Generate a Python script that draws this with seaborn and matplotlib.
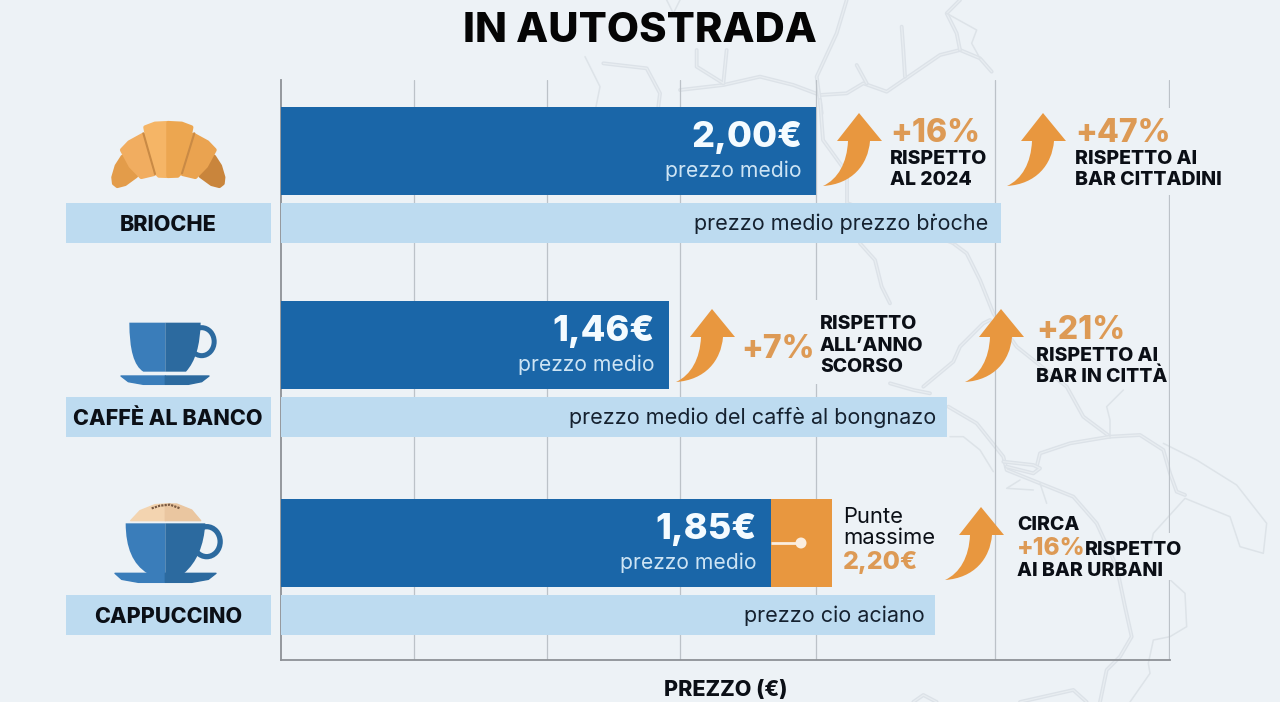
import numpy as np
import matplotlib
matplotlib.use("Agg")
import matplotlib.pyplot as plt
from matplotlib.path import Path
from matplotlib.patches import PathPatch, Rectangle, Circle, Ellipse
import seaborn as sns

# ---------- data ----------
categories = ["BRIOCHE", "CAFFÈ AL BANCO", "CAPPUCCINO"]
price_labels = ["2,00€", "1,46€", "1,85€"]
mean_bar = [2.00, 1.45, 1.83]
peak_bar = [0.0, 0.0, 2.06]
caption_bar = [2.69, 2.49, 2.445]
captions = ["prezzo medio prezzo bṙoche", "prezzo medio del caffè al bongnazo", "prezzo cio aciano"]
grid_values = [0.497, 0.994, 1.49, 2.0, 2.669, 3.32]

# ---------- style ----------
BG = "#edf2f6"
BLUE = "#1a66a8"
LIGHT = "#bddbf0"
ORANGE = "#e8973f"
ORANGE_TXT = "#dd9a55"
INK = "#0b0f16"
FONT = "Inter"
HEAVY = 800

sns.set_theme(style="white")
plt.rcParams["font.family"] = [FONT, "DejaVu Sans"]

W, H = 1280, 702
fig = plt.figure(figsize=(W / 100, H / 100), dpi=100, facecolor=BG)

def layer(z):
    a = fig.add_axes([0, 0, 1, 1], zorder=z)
    a.set_xlim(0, W)
    a.set_ylim(H, 0)
    a.axis("off")
    a.patch.set_alpha(0)
    return a

bgax = layer(0)
top = layer(3)

def zoom_pts(pts, ox, oy):
    return [(ox + x / 3, oy + y / 3) for x, y in pts]

wide_a = [(300,270),(430,255),(540,230),(640,255),(720,285),(800,280),(850,250),(920,275),(1000,220),(1080,165),(1140,150),(1200,175),(1235,215)]
wide_b = [(800,0),(770,100),(710,230),(725,340)]
wide_c = [(965,80),(970,150),(975,230)]
wide_d = [(1140,0),(1100,40),(1130,100),(1140,150)]
wide_e = [(70,190),(200,205),(240,280),(235,320)]
wide_f = [(350,150),(350,200),(430,250),(440,150)]
wide_g = [(830,195),(860,250)]
thin_a = [(15,170),(60,260),(40,360)]
thin_b = [(1100,40),(1190,90),(1175,130),(1200,175)]
thin_c = [(260,0),(280,40),(300,0)]
top_wide = [wide_a, wide_b, wide_c, wide_d, wide_e, wide_f, wide_g]
top_thin = [thin_a, thin_b, thin_c]

mid_a = [(400,160),(440,190),(480,270),(520,370),(590,470),(740,590),(790,680),(870,740)]
mid_b = [(650,830),(660,790),(750,760),(870,740),(960,735),(1030,780),(1050,850),(1070,905),(1095,915)]
mid_c = [(385,650),(470,700),(550,800),(560,840),(660,880),(760,920),(830,1000),(890,1130),(915,1250),(935,1340),(900,1400),(860,1440),(840,1536)]
mid_d = [(550,815),(640,825),(660,835),(640,850),(560,830)]
mid_e = [(310,590),(400,515),(420,470),(490,400),(510,390)]
mid_f = [(120,160),(165,210),(185,290),(210,340)]
mid_g = [(210,580),(280,600),(330,610)]
mid_h = [(600,1536),(760,1500),(800,1536)]
mid_i = [(280,1536),(310,1515),(350,1536)]
low_a = [(1030,760),(1130,810),(1250,885),(1340,1000),(1330,1090),(1260,1070),(1230,980),(1095,925),(1000,1030),(985,1100)]
low_b = [(910,600),(860,650),(870,690),(870,740)]
low_c = [(1040,1160),(1095,1210),(1100,1310),(1050,1340),(1000,1350),(985,1420),(990,1450),(930,1536)]
low_d = [(390,740),(430,740),(480,780),(520,845)]
low_e = [(660,880),(680,940)]
low_f = [(600,870),(560,895),(640,900)]
mid_wide = [mid_a, mid_b, mid_c, mid_d, mid_e, mid_f, mid_g, mid_h, mid_i]
mid_thin = [low_a, low_b, low_c, low_d, low_e, low_f]

def road(pts, wide):
    xs, ys = zip(*pts)
    if wide:
        bgax.plot(xs, ys, color="#dce2e8", lw=2.8, solid_joinstyle="round", solid_capstyle="round")
        bgax.plot(xs, ys, color="#e8edf1", lw=0.9, solid_joinstyle="round")
    else:
        bgax.plot(xs, ys, color="#dde3e8", lw=1.1, solid_joinstyle="round")

for r in top_wide:
    road(zoom_pts(r, 580, 0), True)
for r in top_thin:
    road(zoom_pts(r, 580, 0), False)
for r in mid_wide:
    road(zoom_pts(r, 820, 190), True)
for r in mid_thin:
    road(zoom_pts(r, 820, 190), False)
road([(820, 100), (823, 140), (847, 173), (847, 203), (905, 225), (953, 243)], True)

# ---------- chart axes ----------
ax_l, ax_r, ax_t, ax_b = 281, 1170, 80, 660
ax = fig.add_axes([ax_l / W, 1 - ax_b / H, (ax_r - ax_l) / W, (ax_b - ax_t) / H], zorder=2)
ax.patch.set_alpha(0)
rows = np.array([151, 345, 543])
caption_rows = rows + 72
span = 194.0

sns.barplot(x=caption_bar, y=caption_rows, orient="y", native_scale=True, width=40 / span,
            color=LIGHT, saturation=1, errorbar=None, ax=ax, linewidth=0, zorder=3)
sns.barplot(x=peak_bar, y=rows, orient="y", native_scale=True, width=88 / span,
            color=ORANGE, saturation=1, errorbar=None, ax=ax, linewidth=0, zorder=3)
sns.barplot(x=mean_bar, y=rows, orient="y", native_scale=True, width=88 / span,
            color=BLUE, saturation=1, errorbar=None, ax=ax, linewidth=0, zorder=4)

ax.set_xlim(0, (ax_r - ax_l) / 267.5)
ax.set_ylim(ax_b, ax_t)
ax.set_yticks([])
ax.set_xticks(grid_values)
ax.set_xticklabels([])
ax.tick_params(length=0)
ax.set_xlabel("")
ax.set_ylabel("")
ax.grid(axis="x", color="#bcc2c8", lw=0.9, zorder=1)
ax.set_axisbelow(True)
sns.despine(ax=ax)
for s in ("left", "bottom"):
    ax.spines[s].set_color("#8d9196")
    ax.spines[s].set_linewidth(1.3)

# ---------- helper drawing ----------
def T(x, y, s, size, color=INK, weight=HEAVY, ha="left", va="center", **kw):
    # the va=center box includes descenders: shift so that capitals sit on y
    return top.text(x, y + size * 0.11, s, fontsize=size, color=color, fontweight=weight, ha=ha, va=va, **kw)

def arrow(tx, ty):
    v = [(0,0),(23,28),(11,28),(9,52),(-7,71),(-36,73),(-21,66),(-12,50),(-11,28),(-22,28),(0,0)]
    c = [Path.MOVETO,Path.LINETO,Path.LINETO,Path.CURVE4,Path.CURVE4,Path.CURVE4,Path.CURVE4,Path.CURVE4,Path.CURVE4,Path.LINETO,Path.CLOSEPOLY]
    top.add_patch(PathPatch(Path([(tx+a, ty+b) for a, b in v], c), fc=ORANGE, ec="none"))

def poly(pts, ox, oy, color, lw=0):
    top.add_patch(plt.Polygon(zoom_pts(pts, ox, oy), closed=True, fc=color, ec=color, lw=lw, joinstyle="round"))

def half(pts, ox, oy, color, codes):
    top.add_patch(PathPatch(Path(zoom_pts(pts, ox, oy), codes), fc=color, ec="none"))

CUP_L, CUP_R = "#3a7dba", "#2c6a9f"
LEFT_CODES = [Path.MOVETO, Path.LINETO, Path.LINETO, Path.LINETO, Path.CURVE3, Path.CURVE3]
RIGHT_CODES = [Path.MOVETO, Path.LINETO, Path.CURVE3, Path.CURVE3, Path.LINETO, Path.CLOSEPOLY]

# gaps in grid lines behind text blocks
for (x0, y0, x1, y1) in [(1165, 108, 1175, 195), (811, 300, 821, 384), (1165, 533, 1175, 580)]:
    top.add_patch(Rectangle((x0, y0), x1 - x0, y1 - y0, fc=BG, ec="none"))

# croissant
ox, oy = 60, 90
seg_l = [(160,262),(170,228),(188,200),(228,258),(195,282),(172,288),(162,280)]
seg_m = [(186,180),(208,157),(250,134),(282,252),(244,261),(212,228)]
seg_c = [(256,112),(285,101),(325,99),(325,258),(297,257),(284,243),(266,165)]
mirror = lambda s: [(650 - x, y) for x, y in s]
poly(seg_l, ox, oy, "#e39c4a", 3)
poly(mirror(seg_l), ox, oy, "#c9853c", 3)
poly(seg_m, ox, oy, "#f1ad60", 3)
poly(mirror(seg_m), ox, oy, "#eaa350", 3)
poly(seg_c, ox, oy, "#f5b566", 3)
poly(mirror(seg_c), ox, oy, "#eca650", 3)
for line in ([(250,130),(285,252)], [(403,130),(366,250)]):
    p = zoom_pts(line, ox, oy)
    top.plot(*zip(*p), color="#c98a45", lw=1.5, solid_capstyle="round")

# coffee cup
ox, oy = 60, 300
top.add_patch(Ellipse((ox + 425 / 3, oy + 125 / 3), 25, 28, fc="none", ec=CUP_R, lw=3.6))
half([(208,68),(316,68),(316,215),(250,215),(208,190),(208,68)], ox, oy, CUP_L, LEFT_CODES)
half([(316,68),(422,68),(420,170),(378,215),(316,215),(316,68)], ox, oy, CUP_R, RIGHT_CODES)
poly([(183,228),(316,228),(316,253),(250,253),(205,245)], ox, oy, CUP_L, 1)
poly([(316,228),(447,228),(425,245),(385,253),(316,253)], ox, oy, CUP_R, 1)

# cappuccino cup
ox, oy = 60, 490
poly([(212,92),(240,62),(285,44),(316,42),(316,92)], ox, oy, "#f3d4b0", 1)
poly([(316,42),(350,42),(395,60),(422,92),(316,92)], ox, oy, "#eac6a0", 1)
top.plot(*zip(*zoom_pts([(275,55),(300,47),(330,44),(360,55)], ox, oy)), color="#7a5a42", lw=1.6, ls=(0, (1, 0.5)))
top.add_patch(Ellipse((ox + 440 / 3, oy + 155 / 3), 27, 30, fc="none", ec=CUP_R, lw=3.8))
half([(197,100),(316,100),(316,250),(262,250),(197,210),(197,100)], ox, oy, CUP_L, LEFT_CODES)
half([(316,100),(436,100),(430,200),(372,250),(316,250),(316,100)], ox, oy, CUP_R, RIGHT_CODES)
poly([(165,250),(316,250),(316,277),(235,277),(185,268)], ox, oy, CUP_L, 1)
poly([(316,250),(468,250),(445,268),(395,277),(316,277)], ox, oy, CUP_R, 1)

# ---------- labels ----------
T(640, 28, "IN AUTOSTRADA", 30, ha="center", color="#050505")
T(726, 688, "PREZZO (€)", 15.5, ha="center")

for y, name in zip(caption_rows, categories):
    top.add_patch(Rectangle((66, y - 20), 205, 40, fc=LIGHT, ec="none"))
    T(168, y, name, 15.5, ha="center")

cap_right = [988, 936, 925]
for y, s, xr in zip(caption_rows, captions, cap_right):
    T(xr, y - 1, s, 15.5, color="#15212f", weight="normal", ha="right")

val_right = [802, 655, 757]
for y, s, xr in zip(rows, price_labels, val_right):
    T(xr, y - 16, s, 26, color="#f4fbff", ha="right")
    T(xr, y + 18, "prezzo medio", 15.2, color="#cde4f4", weight="normal", ha="right")

for tip in [(859, 113), (1043, 113), (712, 309), (1001, 309), (981, 507)]:
    arrow(*tip)

BODY = 14
T(890, 131, "+16%", 23, color=ORANGE_TXT)
T(890, 157, "RISPETTO", BODY)
T(890, 178, "AL 2024", BODY)
T(1075, 131, "+47%", 23, color=ORANGE_TXT)
T(1075, 157, "RISPETTO AI", BODY)
T(1075, 178, "BAR CITTADINI", BODY)
T(741, 347, "+7%", 23, color=ORANGE_TXT)
T(820, 322, "RISPETTO", BODY)
T(820, 344, "ALL’ANNO", BODY)
T(820, 365, "SCORSO", BODY)
T(1036, 328, "+21%", 23, color=ORANGE_TXT)
T(1036, 354, "RISPETTO AI", BODY)
T(1036, 375, "BAR IN CITTÀ", BODY)
top.plot([771, 801], [543, 543], color="#fbeee0", lw=2, solid_capstyle="butt")
top.add_patch(Circle((801, 543), 5.5, fc="#fbeee0", ec="none"))
T(843, 515, "Punte", 15.8, weight="normal")
T(843, 536, "massime", 15.8, weight="normal")
T(843, 561, "2,20€", 18, color=ORANGE_TXT)
T(1017, 523, "CIRCA", BODY)
T(1017, 547, "+16%", 17.5, color=ORANGE_TXT)
T(1085, 548, "RISPETTO", BODY)
T(1017, 569, "AI BAR URBANI", BODY)

fig.savefig("out.png", dpi=100, facecolor=BG)
